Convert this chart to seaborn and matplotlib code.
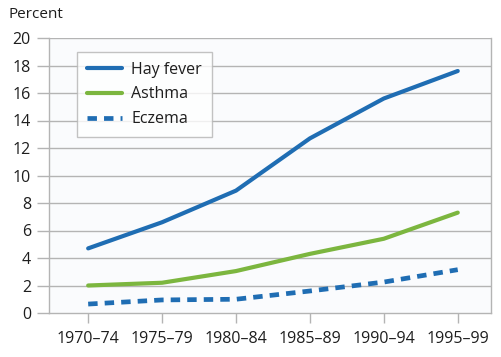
import pandas as pd
import seaborn as sns
import matplotlib.pyplot as plt

periods = ['1970–74', '1975–79', '1980–84', '1985–89', '1990–94', '1995–99']
hay_fever = [4.7, 6.6, 8.9, 12.7, 15.6, 17.6]
asthma = [2.0, 2.2, 3.05, 4.3, 5.4, 7.3]
eczema = [0.65, 0.95, 1.0, 1.6, 2.25, 3.15]
y_ticks = [0, 2, 4, 6, 8, 10, 12, 14, 16, 18, 20]

blue = '#1f6db3'
green = '#7cb63f'
text_col = '#1e1e1e'

sns.set_theme(style='white')
plt.rcParams['font.family'] = ['Open Sans', 'DejaVu Sans']

df = pd.DataFrame({'period': periods, 'Hay fever': hay_fever,
                   'Asthma': asthma, 'Eczema': eczema})
df['x'] = range(len(periods))

fig = plt.figure(figsize=(5.01, 3.57), dpi=100)
fig.patch.set_facecolor('white')
ax = fig.add_axes([49 / 501, 1 - 313 / 357, (491 - 49) / 501, (313 - 38) / 357])
ax.set_facecolor('#fafbfd')

sns.lineplot(data=df, x='x', y='Hay fever', ax=ax, color=blue, lw=3, label='Hay fever')
sns.lineplot(data=df, x='x', y='Asthma', ax=ax, color=green, lw=3, label='Asthma')
sns.lineplot(data=df, x='x', y='Eczema', ax=ax, color=blue, lw=3.4,
             linestyle=(0, (2.0, 1.5)), label='Eczema')

ax.set_xlim(-0.53, 5.45)
ax.set_ylim(0, 20)
ax.set_yticks(y_ticks)
ax.set_xticks(df['x'])
ax.set_xticklabels(periods)
ax.set_xlabel('')
ax.set_ylabel('')

for y in y_ticks[1:]:
    ax.axhline(y, color='#b4b4b4', lw=1, zorder=0)

for side in ['top', 'right', 'left', 'bottom']:
    ax.spines[side].set_visible(True)
    ax.spines[side].set_color('#b4b4b4')
    ax.spines[side].set_linewidth(1)
ax.spines['top'].set_visible(False)

ax.tick_params(axis='y', length=9, width=1, color='#b4b4b4', pad=4,
               labelsize=11.5, labelcolor=text_col, left=True)
ax.tick_params(axis='x', length=7, width=1, color='#b4b4b4', pad=6,
               labelsize=11.5, labelcolor=text_col, bottom=True)

leg = ax.legend(loc='upper left', bbox_to_anchor=(28 / 442, 1 - 14 / 275),
                frameon=True, fancybox=False, fontsize=11.5, handlelength=2.2,
                borderpad=0.6, labelspacing=0.55, handletextpad=0.6,
                borderaxespad=0)
leg.get_frame().set_edgecolor('#b4b4b4')
leg.get_frame().set_linewidth(1)
leg.get_frame().set_facecolor('white')
for t in leg.get_texts():
    t.set_color(text_col)

fig.text(8 / 501, 1 - 15 / 357, 'Percent', fontsize=11, color=text_col,
         va='center', ha='left')

fig.savefig('out.png', dpi=100)
